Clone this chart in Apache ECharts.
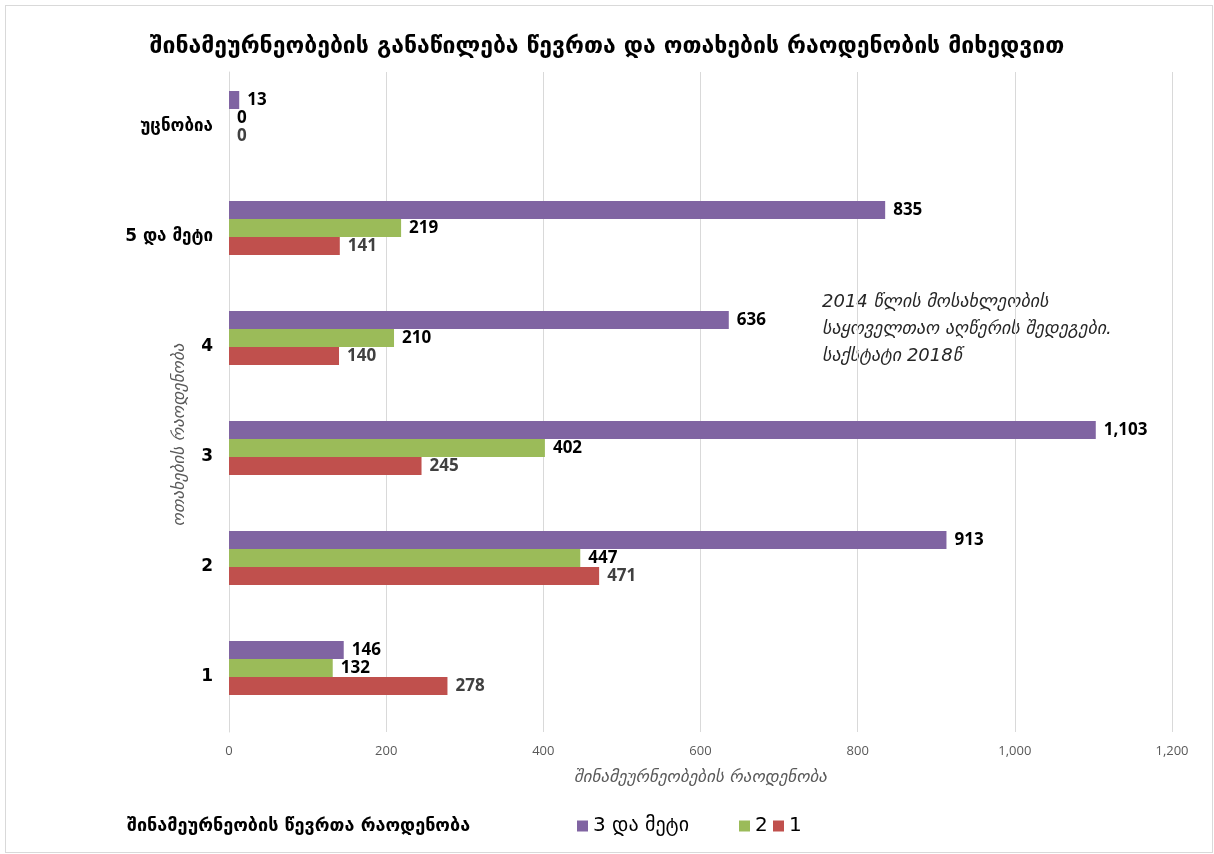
<!DOCTYPE html>
<html>
<head>
<meta charset="utf-8">
<script src="https://cdn.jsdelivr.net/npm/echarts@6/dist/echarts.min.js"></script>
<style>
html, body { margin: 0; padding: 0; background: #fff; }
#frame {
    position: absolute; left: 5px; top: 5px;
    width: 1206px; height: 846px;
    border: 1px solid #d9d9d9;
}
#main { position: absolute; left: 0; top: 0; width: 1214px; height: 854px; }
</style>
</head>
<body>
<div id="frame"></div>
<div id="main"></div>
<script>
// ოთახების რაოდენობა (ქვემოდან ზემოთ)
var categories = ['1', '2', '3', '4', '5 და მეტი', 'უცნობია'];
var seriesNames = ['3 და მეტი', '2', '1'];
var members3plus = [146, 913, 1103, 636, 835, 13];
var members2 = [132, 447, 402, 210, 219, 0];
var members1 = [278, 471, 245, 140, 141, 0];
var xTicks = [0, 200, 400, 600, 800, 1000, 1200];

var geo = '"DejaVu Sans", "Noto Sans", sans-serif';
var num = '"Open Sans", "Liberation Sans", sans-serif';

var myChart = echarts.init(document.getElementById('main'));

function makeSeries(name, data, color, labelColor) {
    return {
        name: name,
        type: 'bar',
        data: data,
        barWidth: 18,
        barGap: '0%',
        itemStyle: { color: color },
        label: {
            show: true,
            position: 'right',
            distance: 8,
            color: labelColor,
            fontFamily: num,
            fontWeight: 'bold',
            fontSize: 17,
            formatter: function (p) { return p.value.toLocaleString('en-US'); }
        }
    };
}

// one legend per item, so the spacing can follow the original
function makeLegend(name, left) {
    return {
        data: [name],
        left: left,
        top: 811,
        itemWidth: 11,
        itemHeight: 11,
        itemGap: 0,
        icon: 'rect',
        textStyle: { fontFamily: geo, fontSize: 20, color: '#000' }
    };
}

var option = {
    animation: false,
    title: {
        text: 'შინამეურნეობების განაწილება წევრთა და ოთახების რაოდენობის მიხედვით',
        left: 'center',
        top: 31,
        textStyle: { fontFamily: geo, fontWeight: 'bold', fontSize: 23, color: '#000' }
    },
    grid: { left: 229, right: 42, top: 72, bottom: 122 },
    legend: [
        makeLegend(seriesNames[0], 572),
        makeLegend(seriesNames[1], 734),
        makeLegend(seriesNames[2], 768)
    ],
    xAxis: {
        type: 'value',
        min: 0,
        max: 1200,
        interval: 200,
        name: 'შინამეურნეობების რაოდენობა',
        nameLocation: 'middle',
        nameGap: 37,
        nameTextStyle: { fontFamily: geo, fontStyle: 'italic', fontSize: 17, color: '#595959' },
        axisLine: { show: false },
        axisTick: { show: false },
        axisLabel: {
            margin: 13,
            color: '#595959',
            fontFamily: num,
            fontSize: 13,
            formatter: function (v) { return xTicks.indexOf(v) >= 0 ? v.toLocaleString('en-US') : ''; }
        },
        splitLine: { lineStyle: { color: '#d9d9d9' } }
    },
    yAxis: {
        type: 'category',
        data: categories,
        axisLine: { lineStyle: { color: '#d9d9d9' } },
        axisTick: { show: false },
        axisLabel: {
            margin: 16,
            color: '#000',
            fontFamily: geo,
            fontWeight: 'bold',
            fontSize: 17
        }
    },
    graphic: [
        {
            type: 'text',
            x: 180,
            y: 435,
            rotation: Math.PI / 2,
            style: {
                text: 'ოთახების რაოდენობა',
                fontFamily: geo,
                fontStyle: 'italic',
                fontSize: 17,
                fill: '#595959',
                align: 'center',
                verticalAlign: 'middle'
            }
        },
        {
            type: 'text',
            left: 822,
            top: 289,
            style: {
                text: '2014 წლის მოსახლეობის\nსაყოველთაო აღწერის შედეგები.\nსაქსტატი 2018წ',
                fontFamily: geo,
                fontStyle: 'italic',
                fontSize: 18,
                lineHeight: 27,
                fill: '#262626'
            }
        },
        {
            type: 'text',
            left: 127,
            top: 817,
            style: {
                text: 'შინამეურნეობის წევრთა რაოდენობა',
                fontFamily: geo,
                fontWeight: 'bold',
                fontSize: 18,
                fill: '#000'
            }
        }
    ],
    series: [
        makeSeries(seriesNames[0], members3plus, '#8064a2', '#000'),
        makeSeries(seriesNames[1], members2, '#9bbb59', '#000'),
        makeSeries(seriesNames[2], members1, '#c0504d', '#404040'),
        // empty fourth slot: keeps the bar groups above the category centre, as in the original
        {
            name: '',
            type: 'bar',
            data: [null, null, null, null, null, null],
            barWidth: 18,
            barGap: '0%',
            silent: true
        }
    ]
};

myChart.setOption(option);
window.addEventListener('resize', function () {
    myChart.resize();
});
</script>
</body>
</html>
